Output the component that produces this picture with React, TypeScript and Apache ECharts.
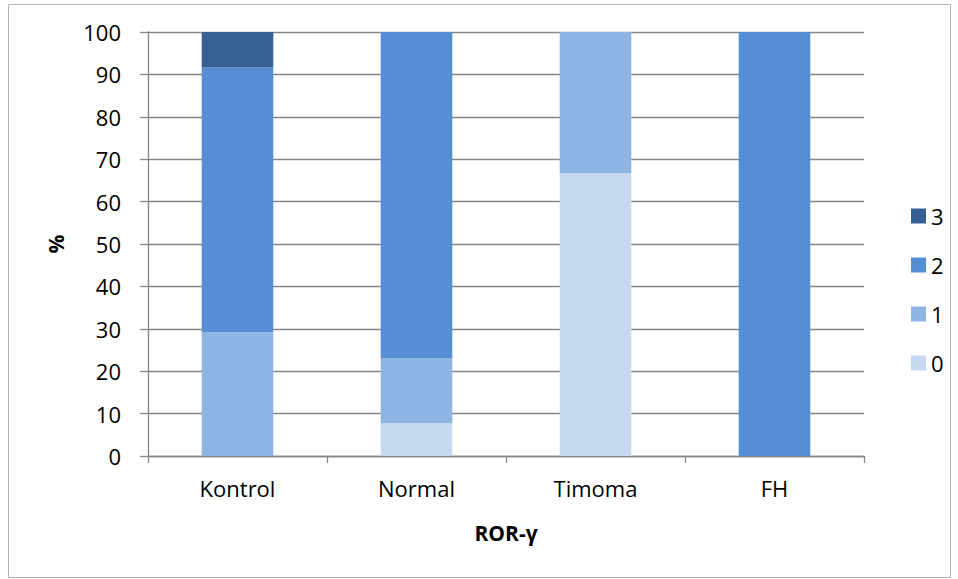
import React, { useEffect, useRef } from "react";
import * as echarts from "echarts";

const categories = ["Kontrol", "Normal", "Timoma", "FH"];
const seriesNames = ["0", "1", "2", "3"];
const values0 = [0, 7.7, 66.7, 0];
const values1 = [29.2, 15.4, 33.3, 0];
const values2 = [62.5, 76.9, 0, 100];
const values3 = [8.3, 0, 0, 0];
const colors = ["#C6D9F1", "#8EB4E3", "#558ED5", "#366092"];
const legendOrder = ["3", "2", "1", "0"];

const FONT = "'Open Sans', sans-serif";

export default function App() {
  const ref = useRef<HTMLDivElement>(null);
  useEffect(() => {
    if (!ref.current) return;
    const chart = echarts.init(ref.current, null, { renderer: "svg" });
    const allValues = [values0, values1, values2, values3];
    chart.setOption({
      animation: false,
      backgroundColor: "#ffffff",
      grid: { left: 148, right: 94, top: 32, bottom: 123, containLabel: false },
      legend: {
        data: legendOrder,
        orient: "vertical",
        left: 906,
        top: 200,
        itemWidth: 15,
        itemHeight: 15,
        itemGap: 27,
        icon: "rect",
        textStyle: { fontFamily: FONT, fontSize: 22, color: "#000", lineHeight: 21, padding: [0, 0, 0, 0] },
        itemStyle: { borderWidth: 0 },
      },
      xAxis: {
        type: "category",
        data: categories,
        name: "ROR-γ",
        nameLocation: "middle",
        nameGap: 66,
        nameTextStyle: { fontFamily: FONT, fontSize: 21, fontWeight: "bold", color: "#000" },
        axisLine: { lineStyle: { color: "#868686", width: 1.3 } },
        axisTick: { show: true, alignWithLabel: false, length: 7, lineStyle: { color: "#868686", width: 1.3 } },
        axisLabel: { fontFamily: FONT, fontSize: 22, color: "#000", margin: 21 },
      },
      yAxis: {
        type: "value",
        min: 0,
        max: 100,
        interval: 10,
        name: "%",
        nameLocation: "middle",
        nameGap: 82,
        nameRotate: 90,
        nameTextStyle: { fontFamily: FONT, fontSize: 21, fontWeight: "bold", color: "#000" },
        axisLine: { show: true, lineStyle: { color: "#868686", width: 1.3 } },
        axisTick: { show: true, length: 8, lineStyle: { color: "#868686", width: 1.3 } },
        axisLabel: { fontFamily: FONT, fontSize: 22, color: "#000", margin: 27 },
        splitLine: { show: true, lineStyle: { color: "#868686", width: 1.3 } },
      },
      series: seriesNames.map((name, i) => ({
        name,
        type: "bar",
        stack: "total",
        data: allValues[i],
        barWidth: "40%",
        itemStyle: { color: colors[i] },
      })),
      graphic: [
        {
          type: "rect",
          shape: { x: 8.5, y: 4.5, width: 942, height: 573 },
          style: { fill: "none", stroke: "#b3b3b3", lineWidth: 1 },
          silent: true,
        },
      ],
    });
    return () => chart.dispose();
  }, []);
  return (
    <div
      ref={ref}
      style={{ position: "fixed", left: 0, top: 0, width: 958, height: 579 }}
    />
  );
}
